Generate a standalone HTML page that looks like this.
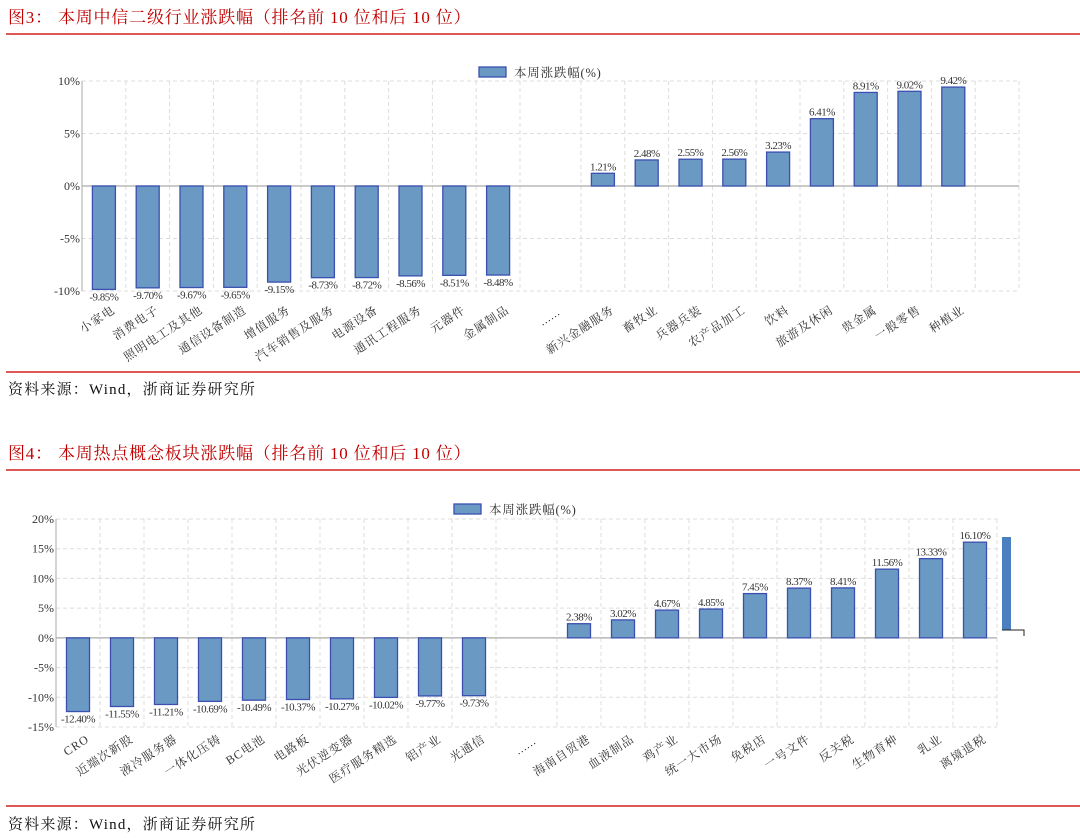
<!DOCTYPE html>
<html><head><meta charset="utf-8">
<style>
body{margin:0;background:#fff;width:1080px;height:838px;overflow:hidden;font-family:"Liberation Serif","Noto Serif CJK SC",serif;}
svg{position:absolute;left:0;top:0}
</style></head><body>
<svg id="s" width="1080" height="838" xmlns="http://www.w3.org/2000/svg">
  <text x="8" y="23" font-size="17" letter-spacing="0.8" fill="#c00000" font-family="Liberation Serif, Noto Serif CJK SC, serif">图3：  本周中信二级行业涨跌幅（排名前 10 位和后 10 位）</text>
  <line x1="6" y1="34" x2="1080" y2="34" stroke="#d42020" stroke-width="1.5"/>
  <line x1="6" y1="372" x2="1080" y2="372" stroke="#d42020" stroke-width="1.5"/>
  <text x="8" y="394" font-size="15" letter-spacing="1.2" fill="#111" font-family="Liberation Serif, Noto Serif CJK SC, serif">资料来源：Wind，浙商证券研究所</text>
  <text x="8" y="459" font-size="17" letter-spacing="0.8" fill="#c00000" font-family="Liberation Serif, Noto Serif CJK SC, serif">图4：  本周热点概念板块涨跌幅（排名前 10 位和后 10 位）</text>
  <line x1="6" y1="470" x2="1080" y2="470" stroke="#d42020" stroke-width="1.5"/>
  <line x1="6" y1="806" x2="1080" y2="806" stroke="#d42020" stroke-width="1.5"/>
  <text x="8" y="829" font-size="15" letter-spacing="1.2" fill="#111" font-family="Liberation Serif, Noto Serif CJK SC, serif">资料来源：Wind，浙商证券研究所</text>
  <rect x="1002" y="537" width="9" height="93" fill="#4a7fc0"/>
  <polyline points="1002,630 1024,630 1024,636" fill="none" stroke="#222" stroke-width="1"/>
  <g id="c1"></g>
  <g id="c2"></g>
</svg>
<script>
// Chart 1 data
const c1NegCats=["小家电","消费电子","照明电工及其他","通信设备制造","增值服务","汽车销售及服务","电源设备","通讯工程服务","元器件","金属制品"];
const c1NegVals=[-9.85,-9.70,-9.67,-9.65,-9.15,-8.73,-8.72,-8.56,-8.51,-8.48];
const c1PosCats=["新兴金融服务","畜牧业","兵器兵装","农产品加工","饮料","旅游及休闲","贵金属","一般零售","种植业",""];
const c1PosVals=[1.21,2.48,2.55,2.56,3.23,6.41,8.91,9.02,9.42,null];
const c1Ticks=[10,5,0,-5,-10];
// Chart 2 data
const c2NegCats=["CRO","近端次新股","液冷服务器","一体化压铸","BC电池","电路板","光伏逆变器","医疗服务精选","铝产业","光通信"];
const c2NegVals=[-12.40,-11.55,-11.21,-10.69,-10.49,-10.37,-10.27,-10.02,-9.77,-9.73];
const c2PosCats=["海南自贸港","血液制品","鸡产业","统一大市场","免税店","一号文件","反关税","生物育种","乳业","离境退税"];
const c2PosVals=[2.38,3.02,4.67,4.85,7.45,8.37,8.41,11.56,13.33,16.10];
const c2Ticks=[20,15,10,5,0,-5,-10,-15];

const NS="http://www.w3.org/2000/svg";
function mk(parent,tag,attrs,text){const e=document.createElementNS(NS,tag);for(const k in attrs)e.setAttribute(k,attrs[k]);if(text!==undefined)e.textContent=text;parent.appendChild(e);return e;}

function draw(g,cfg,negCats,negVals,posCats,posVals,ticks){
  const {L,R,T,B,max,min,w,legX,legY,off}=cfg;
  const y=v=>T+(max-v)/(max-min)*(B-T);
  const negX=i=>L+w*(i+0.5);
  const n=posCats.length;
  const posX=j=>R-w*(n-j-0.5);
  const gapL=L+w*negCats.length, gapR=R-w*n;
  const gxs=[];
  for(let i=0;i<=negCats.length;i++)gxs.push(L+w*i);
  for(let j=0;j<=n;j++)gxs.push(R-w*j);
  gxs.forEach(x=>{const l=mk(g,'line',{x1:x,x2:x,y1:T,y2:B,stroke:'#ddd','stroke-dasharray':'4,3'});
    
    });
  ticks.forEach(t=>{
    const l=mk(g,'line',{x1:L,x2:R,y1:y(t),y2:y(t),stroke:t===0?'#aaa':'#ddd','stroke-dasharray':t===0?'':'4,3','stroke-width':t===0?1.3:1});
    
    
    const tx=mk(g,'text',{x:L-2,y:y(t)+4,'text-anchor':'end','font-size':12,fill:'#333'},t+'%');
    
    
  });
  const ax=mk(g,'line',{x1:L,x2:L,y1:T,y2:B,stroke:'#aaa'});
  
  
  function bar(x,v,cat){
    const y0=y(0),yv=y(v);
    const r=mk(g,'rect',{x:x-11.5,y:Math.min(y0,yv),width:23,height:Math.abs(yv-y0),fill:'#6a9ac4',stroke:'#3a4fb0','stroke-width':1.3});
    
    
    const lb=mk(g,'text',{x:x,y:v<0?yv+11:yv-3,'text-anchor':'middle','font-size':11,fill:'#333','letter-spacing':'-0.5'},v.toFixed(2)+'%');
    
    
  }
  function cat(x,c){
    const ax=x+12, ay=B+off;
    const t=mk(g,'text',{x:ax,y:ay,'text-anchor':'end','font-size':12,'letter-spacing':1,fill:'#333',transform:`rotate(-33 ${ax} ${ay})`},c);
    
    
  }
  negCats.forEach((c,i)=>{bar(negX(i),negVals[i],c);cat(negX(i),c);});
  posCats.forEach((c,j)=>{if(posVals[j]!=null){bar(posX(j),posVals[j],c);cat(posX(j),c);}});
  const ex=(gapL+gapR)/2;
  const el=mk(g,'text',{x:ex+10,y:B+off+2,'text-anchor':'end','font-size':11,fill:'#333',transform:`rotate(-33 ${ex+10} ${B+off+2})`},'……');
  
  
  const lr=mk(g,'rect',{x:legX,y:legY,width:27,height:10,fill:'#6a9ac4',stroke:'#3a4fb0','stroke-width':1.3});
  
  
  const lt=mk(g,'text',{x:legX+35,y:legY+10,'font-size':12.5,'letter-spacing':0.8,fill:'#333'},'本周涨跌幅(%)');
  
  
}
draw(document.getElementById('c1'),{L:82,R:1019,T:81,B:291,max:10,min:-10,w:43.8,legX:479,legY:67,off:21},c1NegCats,c1NegVals,c1PosCats,c1PosVals,c1Ticks);
draw(document.getElementById('c2'),{L:56,R:997,T:519,B:727,max:20,min:-15,w:44,legX:454,legY:504,off:14},c2NegCats,c2NegVals,c2PosCats,c2PosVals,c2Ticks);
</script>
</body></html>
